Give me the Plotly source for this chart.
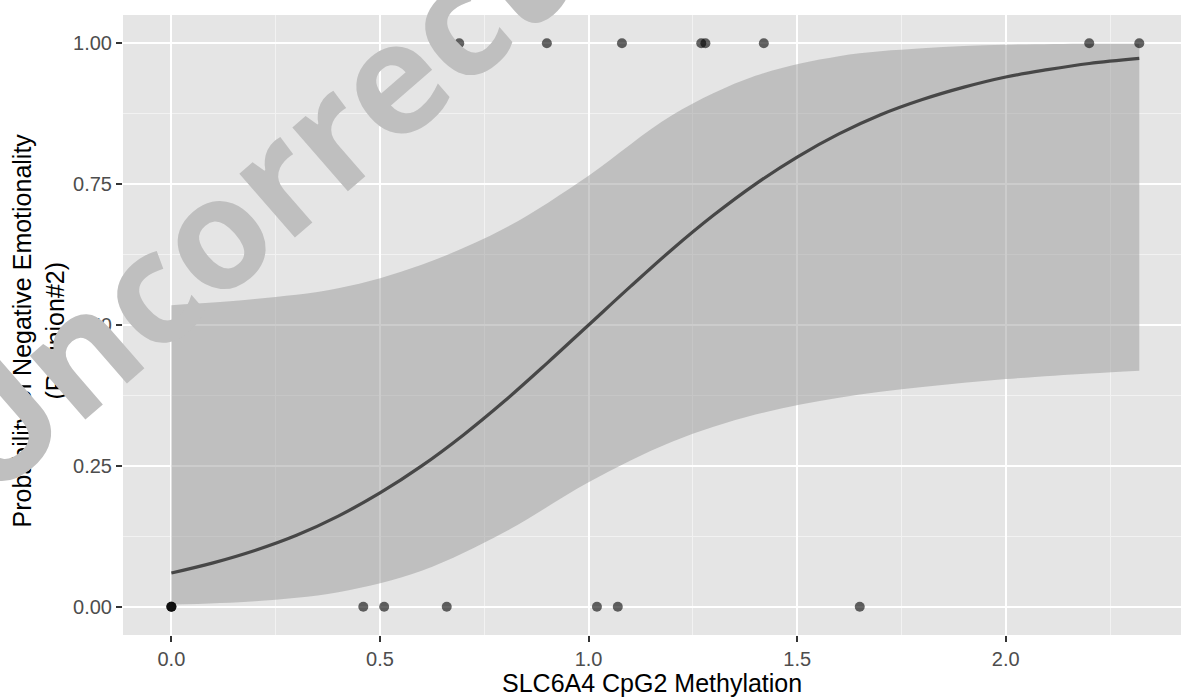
import plotly.graph_objects as go

# observed points (binary outcome)
x_outcome1 = [0.69, 0.90, 1.08, 1.27, 1.28, 1.42, 2.20, 2.32]
x_outcome0 = [0.0, 0.0, 0.0, 0.46, 0.51, 0.66, 1.02, 1.07, 1.65]

# fitted probability curve
curve_x = [0.0, 0.1, 0.2, 0.3, 0.4, 0.5, 0.6, 0.7, 0.8, 0.9, 1.0, 1.1, 1.2,
           1.3, 1.4, 1.5, 1.6, 1.7, 1.8, 1.9, 2.0, 2.1, 2.2, 2.32]
curve_y = [0.060, 0.078, 0.100, 0.127, 0.161, 0.202, 0.250, 0.305, 0.366,
           0.432, 0.500, 0.568, 0.634, 0.695, 0.750, 0.798, 0.839, 0.873,
           0.900, 0.922, 0.940, 0.953, 0.964, 0.973]

# confidence band
band_x = [0.0, 0.2, 0.4, 0.6, 0.8, 1.0, 1.2, 1.4, 1.6, 1.8, 2.0, 2.2, 2.32]
band_upper = [0.535, 0.546, 0.565, 0.607, 0.672, 0.765, 0.872, 0.942, 0.977,
              0.991, 0.997, 0.999, 0.999]
band_lower = [0.004, 0.010, 0.026, 0.064, 0.133, 0.221, 0.293, 0.341, 0.371,
              0.390, 0.404, 0.414, 0.419]

x_ticks = [0.0, 0.5, 1.0, 1.5, 2.0]
y_ticks = [0.0, 0.25, 0.5, 0.75, 1.0]

FONT = "Liberation Sans, Arial, sans-serif"

fig = go.Figure()
fig.add_trace(go.Scatter(x=band_x, y=band_lower, mode="lines",
                         line=dict(width=0, shape="spline"), hoverinfo="skip"))
fig.add_trace(go.Scatter(x=band_x, y=band_upper, mode="lines",
                         line=dict(width=0, shape="spline"), fill="tonexty",
                         fillcolor="rgba(153,153,153,0.5)", hoverinfo="skip"))
fig.add_trace(go.Scatter(x=curve_x, y=curve_y, mode="lines",
                         line=dict(color="#474747", width=3.2, shape="spline")))
fig.add_trace(go.Scatter(x=x_outcome1, y=[1] * len(x_outcome1), mode="markers",
                         marker=dict(color="rgba(0,0,0,0.6)", size=10)))
fig.add_trace(go.Scatter(x=x_outcome0, y=[0] * len(x_outcome0), mode="markers",
                         marker=dict(color="rgba(0,0,0,0.6)", size=10)))

axis_common = dict(
    showgrid=True, gridcolor="white", gridwidth=2, zeroline=False,
    ticks="outside", ticklen=6, tickwidth=2, tickcolor="#333333",
    tickfont=dict(family=FONT, size=20, color="#4d4d4d"),
    showline=False,
)

fig.update_xaxes(range=[-0.116, 2.42], tickvals=x_ticks, tickformat=".1f",
                 minor=dict(tickmode="array", tickvals=[0.25, 0.75, 1.25, 1.75, 2.25],
                            showgrid=True, gridcolor="#f2f2f2", gridwidth=1, ticks=""),
                 **axis_common)
fig.update_yaxes(range=[-0.05, 1.05], tickvals=y_ticks, tickformat=".2f",
                 minor=dict(tickmode="array", tickvals=[0.125, 0.375, 0.625, 0.875],
                            showgrid=True, gridcolor="#f2f2f2", gridwidth=1, ticks=""),
                 **axis_common)

fig.update_layout(
    width=1181, height=698,
    margin=dict(l=123, r=0, t=15, b=63),
    paper_bgcolor="white", plot_bgcolor="#e5e5e5",
    showlegend=False,
    font=dict(family=FONT),
    annotations=[
        dict(text="SLC6A4 CpG2 Methylation", xref="paper", yref="paper",
             x=0.5, y=-0.077, xanchor="center", yanchor="middle", showarrow=False,
             font=dict(family=FONT, size=25, color="black")),
        dict(text="Probability of Negative Emotionality<br>(Reunion#2)",
             xref="paper", yref="paper", x=-0.079, y=0.492, textangle=-90,
             xanchor="center", yanchor="middle", showarrow=False,
             font=dict(family=FONT, size=25, color="black")),
        dict(text="Uncorrected", xref="paper", yref="paper",
             x=0.1786, y=0.794, textangle=-41, xanchor="center", yanchor="middle",
             showarrow=False,
             font=dict(family="Open Sans", size=155, color="#bfbfbf", weight=700)),
    ],
)

fig.write_html("out.html")
